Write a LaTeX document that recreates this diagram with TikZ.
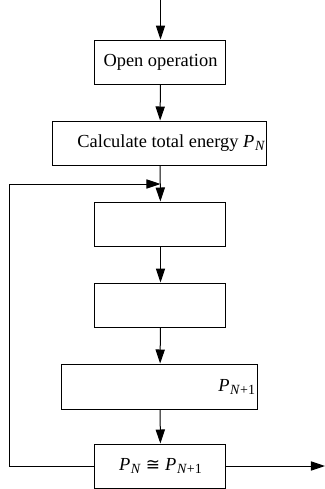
\documentclass[tikz,border=0pt]{standalone}
\usepackage{fontspec}
\setmainfont{Liberation Serif}
\newfontfamily\symfnt{DejaVu Sans}
\usetikzlibrary{arrows.meta}
\newcommand{\PNsym}{\textit{P}\kern0.3pt\raisebox{-0.35ex}{\scriptsize\textit{N}}}
\newcommand{\PNone}{\textit{P}\kern0.3pt\raisebox{-0.35ex}{\scriptsize\textit{N}+1}}
\begin{document}
\begin{tikzpicture}[x=0.5pt,y=-0.5pt,
  every node/.style={font=\fontsize{9.2}{11}\selectfont},
  box/.style={draw,line width=0.5pt,inner sep=0pt,minimum height=22pt},
  narrow/.style={box,minimum width=65.5pt},
  txt/.style={inner sep=0pt},
  flow/.style={line width=0.5pt,-{Triangle[length=7pt,width=4.6pt]}},
  line width=0.5pt]
\useasboundingbox (0,0) rectangle (325,489);
\node[narrow] (b1) at (160.5,62) {Open operation};
\node[box,minimum width=107pt] (b2) at (160,143) {};
\node[txt,anchor=east] (b2t) at ([xshift=-1pt]b2.east) {Calculate total energy \PNsym};
\node[narrow] (b3) at (160.5,224) {};
\node[narrow] (b4) at (160.5,305) {};
\node[box,minimum width=98pt,minimum height=22.5pt] (b5) at (160,386.5) {};
\node[txt,anchor=east] (b5t) at ([xshift=-1.5pt]b5.east) {\PNone};
\node[narrow] (b6) at (160.5,466) {\PNsym\hspace{2.5pt}{\symfnt\fontsize{8.5}{10}\selectfont ≅}\hspace{2.5pt}\PNone};
\coordinate (top) at (160.5,0);
\coordinate (c1) at (10,466);
\coordinate (c2) at (10,184);
\coordinate (c3) at (160.5,184);
\coordinate (out) at (325,466);
\draw[flow] (top) -- (b1);
\draw[flow] (b1) -- (b2);
\draw[flow] (b2) -- (b3);
\draw[flow] (b3) -- (b4);
\draw[flow] (b4) -- (b5);
\draw[flow] (b5) -- (b6);
\draw[flow] (b6.west) -- (c1) -- (c2) -- (c3);
\draw[flow] (b6.east) -- (out);
\end{tikzpicture}
\end{document}
